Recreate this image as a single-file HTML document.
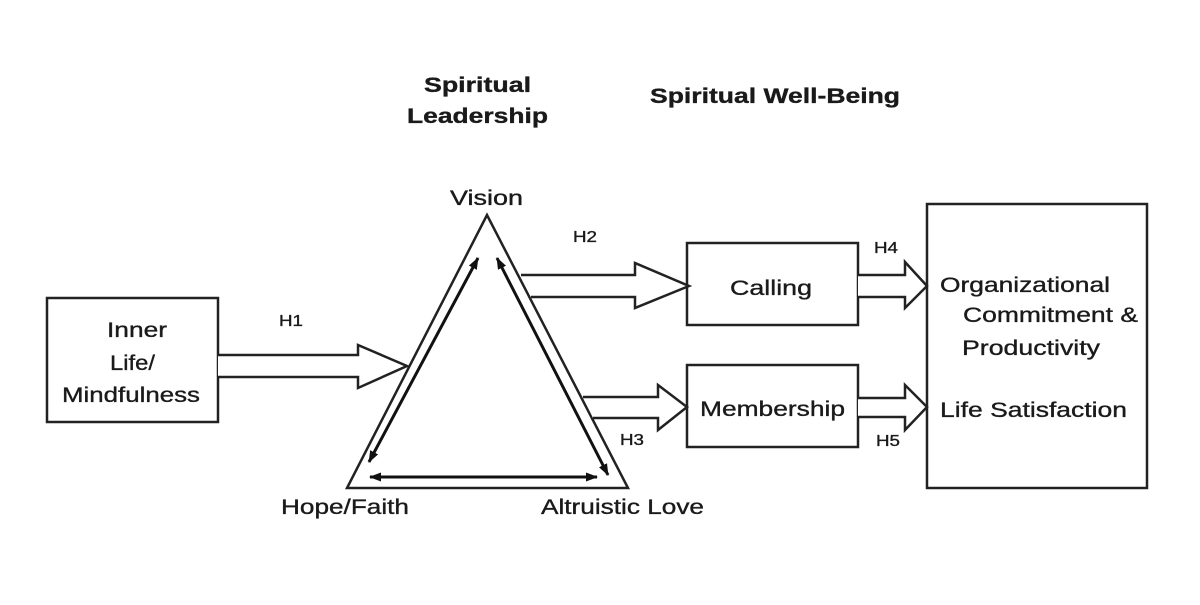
<!DOCTYPE html>
<html><head><style>
html,body{margin:0;padding:0;background:#fff;}
svg text{font-family:"Liberation Sans",Arial,sans-serif;fill:#1a1a1a;stroke:#1a1a1a;stroke-width:0.35;}
</style></head><body>
<svg width="1200" height="600" viewBox="0 0 1200 600" xmlns="http://www.w3.org/2000/svg">
<defs>
<marker id="ah" markerWidth="12" markerHeight="9" refX="11" refY="4.5" orient="auto-start-reverse" markerUnits="userSpaceOnUse">
<path d="M0,0 L12,4.5 L0,9 Z" fill="#111"/></marker>
</defs>
<g stroke="#222" stroke-width="2.5" fill="none">
<rect x="47" y="298" width="171" height="124"/>
<rect x="687" y="243" width="171" height="82"/>
<rect x="687" y="365" width="171" height="82"/>
<rect x="927" y="204" width="220" height="284"/>
<polygon points="487,215 347,488 628,488"/>
<path d="M218,355 L358,355 L358,345 L407,366 L358,388 L358,377 L218,377" fill="#fff"/>
<path d="M521,275 L635,275 L635,263 L689,286 L635,308 L635,297 L531,297" fill="#fff"/>
<path d="M583,397 L658,397 L658,385 L687,407 L658,430 L658,418 L593,418" fill="#fff"/>
<path d="M858,275 L905,275 L905,262 L927,286 L905,308 L905,297 L858,297" fill="#fff"/>
<path d="M858,398 L905,398 L905,385 L927,407 L905,430 L905,417 L858,417" fill="#fff"/>
</g>
<g stroke="#111" stroke-width="3">
<line x1="369" y1="462" x2="478" y2="258" marker-start="url(#ah)" marker-end="url(#ah)"/>
<line x1="497" y1="258" x2="608" y2="475" marker-start="url(#ah)" marker-end="url(#ah)"/>
<line x1="370" y1="477" x2="597" y2="477" marker-start="url(#ah)" marker-end="url(#ah)"/>
</g>
<g font-size="21">
<text x="424" y="92" font-weight="bold" textLength="107" lengthAdjust="spacingAndGlyphs">Spiritual</text>
<text x="407" y="123" font-weight="bold" textLength="141" lengthAdjust="spacingAndGlyphs">Leadership</text>
<text x="650" y="103" font-weight="bold" textLength="250" lengthAdjust="spacingAndGlyphs">Spiritual Well-Being</text>
<text x="450" y="205" textLength="73" lengthAdjust="spacingAndGlyphs">Vision</text>
<text x="281" y="514" textLength="128" lengthAdjust="spacingAndGlyphs">Hope/Faith</text>
<text x="541" y="514" textLength="163" lengthAdjust="spacingAndGlyphs">Altruistic Love</text>
<text x="107" y="337" textLength="60" lengthAdjust="spacingAndGlyphs">Inner</text>
<text x="110" y="370" textLength="45" lengthAdjust="spacingAndGlyphs">Life/</text>
<text x="62" y="402" textLength="138" lengthAdjust="spacingAndGlyphs">Mindfulness</text>
<text x="730" y="295" textLength="82" lengthAdjust="spacingAndGlyphs">Calling</text>
<text x="700" y="416" textLength="145" lengthAdjust="spacingAndGlyphs">Membership</text>
<text x="940" y="292" textLength="170" lengthAdjust="spacingAndGlyphs">Organizational</text>
<text x="963" y="322" textLength="175" lengthAdjust="spacingAndGlyphs">Commitment &amp;</text>
<text x="962" y="355" textLength="138" lengthAdjust="spacingAndGlyphs">Productivity</text>
<text x="940" y="417" textLength="187" lengthAdjust="spacingAndGlyphs">Life Satisfaction</text>
</g>
<g font-size="16">
<text x="279" y="326" textLength="24" lengthAdjust="spacingAndGlyphs">H1</text>
<text x="573" y="242" textLength="24" lengthAdjust="spacingAndGlyphs">H2</text>
<text x="620" y="445" textLength="24" lengthAdjust="spacingAndGlyphs">H3</text>
<text x="874" y="253" textLength="24" lengthAdjust="spacingAndGlyphs">H4</text>
<text x="876" y="446" textLength="24" lengthAdjust="spacingAndGlyphs">H5</text>
</g>
</svg>
</body></html>
